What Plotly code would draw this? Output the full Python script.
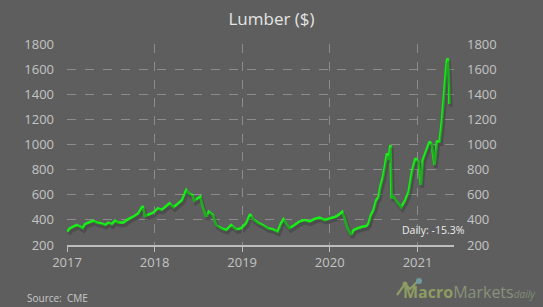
import plotly.graph_objects as go
import pandas as pd

dates = [
    "2017-01-02", "2017-01-13", "2017-01-27", "2017-02-10", "2017-02-24", "2017-03-07",
    "2017-03-17", "2017-04-07", "2017-04-20", "2017-05-05", "2017-05-25", "2017-06-08",
    "2017-06-22", "2017-07-06", "2017-07-20", "2017-08-03", "2017-08-23", "2017-09-13",
    "2017-10-04", "2017-10-25", "2017-11-12", "2017-11-22", "2017-12-05", "2017-12-26",
    "2018-01-15", "2018-01-29", "2018-02-19", "2018-03-04", "2018-03-21", "2018-04-08",
    "2018-04-26", "2018-05-13", "2018-05-24", "2018-06-07", "2018-06-16", "2018-06-30",
    "2018-07-10", "2018-07-21", "2018-08-04", "2018-08-15", "2018-09-01", "2018-09-15",
    "2018-10-06", "2018-10-26", "2018-11-16", "2018-12-07", "2018-12-28",
    "2019-01-18", "2019-02-03", "2019-02-17", "2019-03-07", "2019-03-28", "2019-04-18",
    "2019-05-08", "2019-05-29", "2019-06-12", "2019-06-22", "2019-07-03", "2019-07-17",
    "2019-08-07", "2019-08-27", "2019-09-17", "2019-10-08", "2019-10-29", "2019-11-19",
    "2019-12-10",
    "2020-01-04", "2020-01-25", "2020-02-07", "2020-02-22", "2020-03-03", "2020-03-16",
    "2020-03-30", "2020-04-10", "2020-04-26", "2020-05-15", "2020-06-02", "2020-06-11",
    "2020-06-21", "2020-07-02", "2020-07-13", "2020-07-23", "2020-07-30", "2020-08-10",
    "2020-08-20", "2020-08-27", "2020-09-02", "2020-09-10", "2020-09-15", "2020-09-23",
    "2020-10-07", "2020-10-25", "2020-11-11", "2020-11-25", "2020-12-09", "2020-12-23",
    "2021-01-05", "2021-01-15", "2021-01-23", "2021-02-06", "2021-02-20", "2021-03-02",
    "2021-03-13", "2021-03-23", "2021-04-03", "2021-04-13", "2021-04-19", "2021-04-26",
    "2021-05-03", "2021-05-07", "2021-05-11", "2021-05-14",
]
prices = [
    306, 333, 346, 359, 346, 333,
    367, 386, 393, 378, 372, 359,
    378, 365, 393, 378, 378, 405,
    425, 452, 510, 431, 439, 457,
    492, 479, 510, 532, 500, 526,
    558, 638, 611, 598, 553, 572,
    585, 505, 425, 465, 439, 359,
    333, 319, 359, 324, 333,
    373, 444, 405, 378, 359, 333,
    325, 306, 373, 405, 373, 333,
    359, 386, 399, 386, 407, 417,
    399,
    412, 425, 439, 465, 412, 333,
    280, 319, 333, 346, 351, 373,
    439, 479, 558, 585, 664, 744,
    850, 930, 877, 996, 572, 585,
    545, 500, 558, 624, 784, 890,
    863, 678, 877, 956, 1023, 996,
    837, 1023, 1023, 1195, 1374, 1507,
    1666, 1686, 1534, 1322,
]
y_ticks = [200, 400, 600, 800, 1000, 1200, 1400, 1600, 1800]
x_ticks = ["2017-01-01", "2018-01-01", "2019-01-01", "2020-01-01", "2021-01-01"]
x_tick_labels = ["2017", "2018", "2019", "2020", "2021"]

x = pd.to_datetime(dates)
x_start = pd.Timestamp("2017-01-01")
x_end = pd.Timestamp("2021-06-02")
shift_days = pd.Timedelta(days=6)
y_lo, y_hi = 200, 1800
y_shift = 22

BG = "#5e5e5e"
TXT = "#c4c4c4"
GRID = "#8c8c8c"

fig = go.Figure()
# soft shadow under the line
fig.add_trace(go.Scatter(x=x, y=prices, mode="lines", xaxis="x2", yaxis="y3",
                         line=dict(color="rgba(45,45,45,0.35)", width=3.5),
                         hoverinfo="skip", showlegend=False))
# main line
fig.add_trace(go.Scatter(x=x, y=prices, mode="lines",
                         line=dict(color="#19ee19", width=2.6),
                         showlegend=False))
# right axis carrier (invisible)
fig.add_trace(go.Scatter(x=x, y=prices, mode="lines", yaxis="y2",
                         line=dict(color="rgba(0,0,0,0)", width=0),
                         hoverinfo="skip", showlegend=False))

tickfont = dict(family="Open Sans", size=13, color=TXT)

L, R, T, B = 67, 89, 44, 62
W, H = 543, 307
pw, ph = W - L - R, H - T - B


def px(xp):
    return (xp - L) / pw


def py(yp):
    return (H - B - yp) / ph


fig.update_layout(
    width=W, height=H,
    paper_bgcolor=BG, plot_bgcolor=BG,
    margin=dict(l=L, r=R, t=T, b=B),
    title=dict(text="Lumber ($)", x=0.5, xref="container", xanchor="center",
               y=1 - 19 / H, yref="container", yanchor="middle",
               font=dict(family="Open Sans", size=17, color="#e4e4e4")),
    xaxis=dict(range=[x_start, x_end], tickvals=pd.to_datetime(x_ticks), ticktext=x_tick_labels,
               showgrid=True, gridcolor=GRID, griddash="dash", gridwidth=1,
               showline=True, linecolor="#bdbdbd", linewidth=1.5,
               ticks="outside", ticklen=5, tickcolor="#bdbdbd",
               tickfont=tickfont, zeroline=False),
    xaxis2=dict(range=[x_start - shift_days, x_end - shift_days], overlaying="x",
                visible=False),
    yaxis=dict(range=[y_lo, y_hi], tickvals=y_ticks, showgrid=True, gridcolor=GRID,
               griddash="dash", gridwidth=1, zeroline=False, showline=False,
               tickfont=tickfont, ticks="", ticklabelstandoff=12),
    yaxis2=dict(range=[y_lo, y_hi], tickvals=y_ticks, overlaying="y", side="right",
                showgrid=False, zeroline=False, showline=False,
                tickfont=tickfont, ticks="", ticklabelstandoff=12),
    yaxis3=dict(range=[y_lo + y_shift, y_hi + y_shift], overlaying="y", visible=False),
    annotations=[
        dict(text="Daily: -15.3%", x=px(467), y=py(230), xref="paper", yref="paper",
             showarrow=False, font=dict(family="Open Sans", size=10.5, color="#ececec"),
             xanchor="right", yanchor="middle"),
        dict(text="Source:  CME", x=px(25), y=py(298), xref="paper", yref="paper",
             showarrow=False, font=dict(family="Open Sans", size=10, color="#c8c8c8"),
             xanchor="left", yanchor="middle"),
        dict(text="<b><span style='color:#8d9c62'>Macro</span></b><span style='color:#85937a'>Markets</span>"
                  "<i><span style='font-size:10px;color:#7f8f74'>daily</span></i>",
             x=px(538), y=py(292), xref="paper", yref="paper",
             showarrow=False, font=dict(family="Open Sans", size=16),
             xanchor="right", yanchor="middle"),
    ],
    shapes=[
        dict(type="path", xref="paper", yref="paper",
             path=f"M {px(397)} {py(295)} L {px(405)} {py(284)} L {px(410)} {py(289)} L {px(418)} {py(281)}",
             line=dict(color="#8d9c62", width=2.2)),
        dict(type="circle", xref="paper", yref="paper",
             x0=px(402.5), x1=px(407.5), y0=py(286.5), y1=py(281.5),
             fillcolor="#8d9c62", line=dict(width=0)),
        dict(type="circle", xref="paper", yref="paper",
             x0=px(416), x1=px(422), y0=py(284), y1=py(278),
             fillcolor="#6f9aa0", line=dict(width=0)),
    ],
)

fig.write_html("out.html")
